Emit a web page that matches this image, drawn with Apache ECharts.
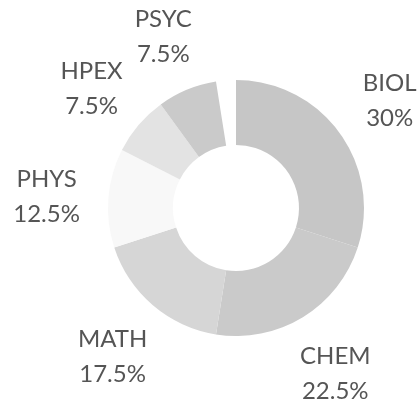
<!DOCTYPE html>
<html>
<head>
<meta charset="utf-8">
<script src="https://cdn.jsdelivr.net/npm/echarts@6/dist/echarts.min.js"></script>
<style>
html,body{margin:0;padding:0;background:#fff;}
#c{width:419px;height:401px;}
</style>
</head>
<body>
<div id="c"></div>
<script>
var categories = ['BIOL', 'CHEM', 'MATH', 'PHYS', 'HPEX', 'PSYC'];
var percents = [30, 22.5, 17.5, 12.5, 7.5, 7.5];
var sliceColors = ['#c6c6c6', '#cacaca', '#d6d6d6', '#f8f8f8', '#e3e3e3', '#cacaca'];
var gapValue = 2.5; // unlabelled remainder shown as empty gap

function buildData(withColors) {
  var d = categories.map(function (c, i) {
    return {
      name: c,
      value: percents[i],
      itemStyle: { color: withColors ? sliceColors[i] : 'rgba(0,0,0,0)' }
    };
  });
  d.push({ name: '', value: gapValue, itemStyle: { color: 'rgba(0,0,0,0)' }, label: { show: false } });
  return d;
}

var chart = echarts.init(document.getElementById('c'), null, { renderer: 'canvas' });
chart.setOption({
  animation: false,
  backgroundColor: '#ffffff',
  series: [
    {
      type: 'pie',
      center: [236, 208],
      radius: [63, 128],
      startAngle: 90,
      clockwise: true,
      silent: true,
      label: { show: false },
      labelLine: { show: false },
      data: buildData(true)
    },
    {
      type: 'pie',
      center: [236, 208],
      radius: [140, 234],
      startAngle: 90,
      clockwise: true,
      silent: true,
      label: {
        show: true,
        position: 'inside',
        color: '#555555',
        fontFamily: 'Lato',
        fontSize: 24,
        lineHeight: 35,
        align: 'center',
        offset: [0, 4],
        formatter: function (p) { return p.name + '\n' + p.value + '%'; }
      },
      labelLine: { show: false },
      data: buildData(false)
    }
  ]
});
</script>
</body>
</html>
